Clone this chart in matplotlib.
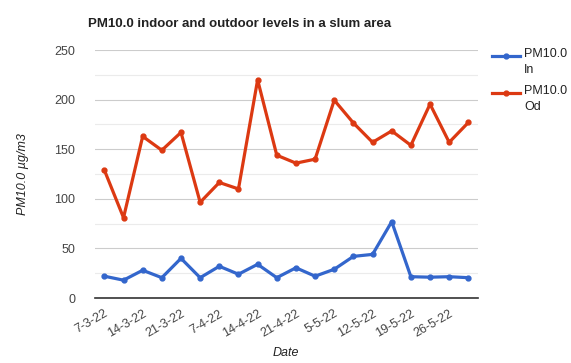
import matplotlib.pyplot as plt
from matplotlib.lines import Line2D
from matplotlib.ticker import MultipleLocator

plt.rcParams['font.family'] = ['Liberation Sans', 'DejaVu Sans']

# 20 readings, a tick label on every other one
tick_labels = ['7-3-22', '14-3-22', '21-3-22', '7-4-22', '14-4-22',
               '21-4-22', '5-5-22', '12-5-22', '19-5-22', '26-5-22']
series_names = ['PM10.0\nIn', 'PM10.0\nOd']
pm10_in = [22, 18, 28, 20.5, 40, 20.5, 32, 24, 34, 20.5,
           30.5, 22, 29, 42, 44, 77, 21.5, 21, 21.5, 20.5]
pm10_od = [129, 81, 163, 149, 167, 96.5, 116.5, 110, 220, 144,
           136, 140, 199.5, 176.5, 157, 168.5, 154, 195.5, 157, 177]

BLUE = '#3366cc'
RED = '#dc3912'

fig = plt.figure(figsize=(5.71, 3.63), dpi=100)
ax = fig.add_axes([0.166, 0.179, 0.671, 0.683])

x = list(range(len(pm10_in)))
ax.plot(x, pm10_in, color=BLUE, lw=2.3, marker='o', ms=3.5)
ax.plot(x, pm10_od, color=RED, lw=2.3, marker='o', ms=3.5)

ax.set_xlim(-0.5, len(x) - 0.5)
ax.set_ylim(0, 250)
ax.yaxis.set_major_locator(MultipleLocator(50))
ax.yaxis.set_minor_locator(MultipleLocator(25))
ax.grid(axis='y', which='major', color='#cccccc', lw=0.8)
ax.grid(axis='y', which='minor', color='#ebebeb', lw=0.8)
ax.set_axisbelow(True)

ax.set_xticks(x[::2])
ax.set_xticklabels(tick_labels, rotation=30, ha='right', rotation_mode='anchor')
ax.tick_params(axis='both', which='both', length=0, labelsize=9, labelcolor='#444444')
ax.tick_params(axis='x', pad=7)
ax.tick_params(axis='y', pad=14)

for s in ['top', 'right', 'left']:
    ax.spines[s].set_visible(False)
ax.spines['bottom'].set_color('#333333')
ax.spines['bottom'].set_linewidth(1.2)

ax.set_xlabel('Date', style='italic', fontsize=9, color='#222222', labelpad=5)
ax.set_ylabel('PM10.0 µg/m3', style='italic', fontsize=9, color='#222222', labelpad=18)

fig.text(0.154, 0.935, 'PM10.0 indoor and outdoor levels in a slum area',
         fontsize=9.5, fontweight='bold', color='#222222', va='center')

# legend: handle lines up with the first line of each label
for i, (name, col) in enumerate(zip(series_names, [BLUE, RED])):
    y0 = 0.847 - i * 0.102
    fig.add_artist(Line2D([0.862, 0.911], [y0, y0], color=col, lw=2.3,
                          transform=fig.transFigure))
    fig.add_artist(Line2D([0.8865], [y0], color=col, marker='o', ms=3.5,
                          transform=fig.transFigure))
    fig.text(0.918, y0 + 0.022, name, fontsize=9, color='#222222',
             va='top', linespacing=1.45)

fig.savefig('out.png', dpi=100)
